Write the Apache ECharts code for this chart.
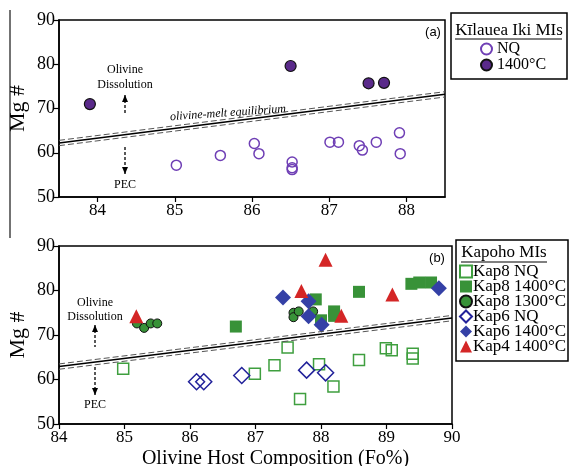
<!DOCTYPE html>
<html><head><meta charset="utf-8">
<script src="https://cdn.jsdelivr.net/npm/echarts@6/dist/echarts.min.js"></script>
<style>html,body{margin:0;padding:0;background:#fff}#c{width:570px;height:466px}</style>
</head><body><div id="c"></div>
<script>
// ---- Data (Fo%, Mg#) ----
var kiNQ = [[85.02,57.2],[85.59,59.4],[86.03,62.1],[86.09,59.8],[86.52,57.9],[86.52,56.6],[86.52,56.2],[87.01,62.4],[87.12,62.4],[87.39,61.6],[87.43,60.6],[87.61,62.4],[87.91,64.5],[87.92,59.8]];
var ki1400 = [[83.90,71.0],[86.50,79.6],[87.51,75.7],[87.71,75.8]];
var kap8NQ = [[84.98,62.4],[86.99,61.3],[87.29,63.2],[87.49,67.2],[87.68,55.6],[87.97,63.4],[88.19,58.4],[88.58,64.4],[88.99,67.0],[89.08,66.6],[89.40,65.8],[89.40,64.7]];
var kap8_1400 = [[86.70,71.9],[87.92,78.0],[88.00,73.3],[88.20,75.3],[88.20,74.3],[88.58,79.7],[89.38,81.5],[89.50,81.8],[89.68,81.8]];
var kap8_1300 = [[85.19,72.6],[85.30,71.6],[85.40,72.6],[85.50,72.6],[87.58,75.0],[87.58,74.0],[87.66,75.3],[87.88,75.3]];
var kap6NQ = [[86.10,59.5],[86.21,59.5],[86.79,60.9],[87.78,62.1],[88.07,61.5]];
var kap6_1400 = [[87.42,78.4],[87.81,77.6],[87.81,74.2],[88.01,72.3],[89.80,80.5]];
var kap4_1400 = [[85.18,74.2],[87.70,79.9],[88.07,86.9],[88.31,74.3],[89.09,79.1]];
// olivine-melt equilibrium line (ends) and uncertainty band offset
var eqTop = [[83.5,62.2],[88.5,73.2]];
var eqBot = [[84,62.9],[90,73.8]];
var eqBand = 0.6;
var xTicksTop = [84,85,86,87,88];
var xTicksBot = [84,85,86,87,88,89,90];

function shift(arr,d){return arr.map(function(p){return [p[0],p[1]+d];});}
var F = 'Liberation Serif';
var chart = echarts.init(document.getElementById('c'));

function xAx(idx,min,max,ticks,name){
  return {gridIndex:idx,type:'value',min:min,max:max,
    axisLine:{show:true,onZero:false,lineStyle:{color:'#000',width:1.5}},
    axisTick:{show:true,length:5,customValues:ticks,lineStyle:{color:'#000',width:1.2}},
    axisLabel:{customValues:ticks,color:'#000',fontFamily:F,fontSize:17,margin:5},
    splitLine:{show:false},
    name:name||'',nameLocation:'middle',nameGap:25,nameMoveOverlap:false,
    nameTextStyle:{color:'#000',fontFamily:F,fontSize:20,padding:[0,0,0,40]}};
}
function yAx(idx){
  return {gridIndex:idx,type:'value',min:50,max:90,interval:10,
    axisLine:{show:true,onZero:false,lineStyle:{color:'#000',width:1.5}},
    axisTick:{show:true,length:6,lineStyle:{color:'#000',width:1.2}},
    axisLabel:{color:'#000',fontFamily:F,fontSize:18,margin:4},
    splitLine:{show:false},
    name:'Mg #',nameLocation:'middle',nameGap:30,nameRotate:90,nameMoveOverlap:false,
    nameTextStyle:{color:'#000',fontFamily:F,fontSize:22}};
}
function eqSeries(idx,pts){
  var base={type:'line',xAxisIndex:idx,yAxisIndex:idx,symbol:'none',silent:true,animation:false};
  return [
    Object.assign({},base,{name:'eq'+idx,data:pts,lineStyle:{color:'#000',width:1.5}}),
    Object.assign({},base,{name:'eqa'+idx,data:shift(pts,eqBand),lineStyle:{color:'#555',width:1,type:[6,3]}}),
    Object.assign({},base,{name:'eqb'+idx,data:shift(pts,-eqBand),lineStyle:{color:'#555',width:1,type:[6,3]}})
  ];
}
function sc(idx,name,data,symbol,size,style){
  style.opacity=1;
  return {type:'scatter',name:name,xAxisIndex:idx,yAxisIndex:idx,data:data,symbol:symbol,symbolSize:size,itemStyle:style,animation:false};
}
var series = [].concat(eqSeries(0,eqTop),eqSeries(1,eqBot),[
  sc(0,'NQ',kiNQ,'circle',10,{color:'rgba(255,255,255,0)',borderColor:'#6f3fb5',borderWidth:1.5}),
  sc(0,'1400°C',ki1400,'circle',11,{color:'#5a2a8a',borderColor:'#111',borderWidth:1.2}),
  sc(1,'Kap8 NQ',kap8NQ,'rect',11,{color:'rgba(255,255,255,0)',borderColor:'#3f9f3f',borderWidth:1.5}),
  sc(1,'Kap8 1400°C',kap8_1400,'rect',12,{color:'#389238'}),
  sc(1,'Kap8 1300°C',kap8_1300,'circle',9,{color:'#389238',borderColor:'#111',borderWidth:1}),
  sc(1,'Kap6 NQ',kap6NQ,'diamond',16,{color:'rgba(255,255,255,0)',borderColor:'#22229a',borderWidth:1.5}),
  sc(1,'Kap6 1400°C',kap6_1400,'diamond',16,{color:'#3440a6'}),
  sc(1,'Kap4 1400°C',kap4_1400,'triangle',14,{color:'#d42626'})
]);

function arrowGfx(x,y1,y2,dir){
  var tip = dir<0 ? y1 : y2;
  var els=[{type:'line',shape:{x1:x,y1:y1,x2:x,y2:y2},style:{stroke:'#000',lineWidth:1.3,lineDash:[3,2]}}];
  var h = dir<0 ? [[x-3,tip+7],[x+3,tip+7],[x,tip]] : [[x-3,tip-7],[x+3,tip-7],[x,tip]];
  els.push({type:'polygon',shape:{points:h},style:{fill:'#000'}});
  return els;
}
function txt(x,y,t,size,extra){
  return {type:'text',x:x,y:y,style:Object.assign({text:t,fill:'#000',font:size+'px "'+F+'"',textAlign:'center',textVerticalAlign:'middle'},extra||{})};
}
var graphics = [
  {type:'line',shape:{x1:10,y1:10,x2:10,y2:238},style:{stroke:'#444',lineWidth:1.5}},
  txt(125,70,'Olivine',12), txt(125,85,'Dissolution',12), txt(125,185,'PEC',12)
].concat(arrowGfx(125,95,113,-1),arrowGfx(125,147,174,1),[
  txt(95,303,'Olivine',12), txt(95,317,'Dissolution',12), txt(95,405,'PEC',12)
],arrowGfx(95,325,347,-1),arrowGfx(95,367,395,1),[
  {type:'text',x:228,y:113,rotation:4*Math.PI/180,style:{text:'olivine-melt equilibrium',fill:'#000',font:'italic 12px "'+F+'"',textAlign:'center',textVerticalAlign:'middle'}},
  {type:'text',x:433,y:32,style:{text:'(a)',fill:'#000',font:'13px "Liberation Sans"',textAlign:'center',textVerticalAlign:'middle'}},
  {type:'text',x:437,y:258,style:{text:'(b)',fill:'#000',font:'13px "Liberation Sans"',textAlign:'center',textVerticalAlign:'middle'}},
  {type:'rect',shape:{x:451,y:13,width:116,height:66},style:{fill:'none',stroke:'#000',lineWidth:1.5}},
  txt(509,31,'Kīlauea Iki MIs',17),
  {type:'line',shape:{x1:455,y1:39,x2:562,y2:39},style:{stroke:'#000',lineWidth:1.2}},
  {type:'rect',shape:{x:456,y:240,width:112,height:121},style:{fill:'none',stroke:'#000',lineWidth:1.5}},
  txt(504,253,'Kapoho MIs',17),
  {type:'line',shape:{x1:461,y1:262,x2:547,y2:262},style:{stroke:'#000',lineWidth:1.2}}
]);

chart.setOption({
  animation:false,
  backgroundColor:'#fff',
  grid:[
    {left:59,top:20,width:386,height:177,show:true,borderColor:'#000',borderWidth:1.5,backgroundColor:'transparent',containLabel:false,outerBoundsMode:'none'},
    {left:59,top:246,width:393,height:178,show:true,borderColor:'#000',borderWidth:1.5,backgroundColor:'transparent',containLabel:false,outerBoundsMode:'none'}
  ],
  xAxis:[xAx(0,83.5,88.5,xTicksTop),xAx(1,84,90,xTicksBot,'Olivine Host Composition (Fo%)')],
  yAxis:[yAx(0),yAx(1)],
  legend:[
    {data:['NQ','1400°C'],orient:'vertical',left:480,top:41,padding:0,itemWidth:11,itemHeight:11,itemGap:0,
     textStyle:{fontFamily:F,fontSize:16,color:'#000',lineHeight:12},selectedMode:false},
    {data:['Kap8 NQ','Kap8 1400°C','Kap8 1300°C','Kap6 NQ','Kap6 1400°C','Kap4 1400°C'],orient:'vertical',left:459,top:263,
     itemWidth:12,itemHeight:12,itemGap:-2,padding:0,textStyle:{fontFamily:F,fontSize:17,color:'#000',lineHeight:12,padding:[0,0,0,-4]},selectedMode:false}
  ],
  series:series,
  graphic:graphics
});
</script></body></html>
